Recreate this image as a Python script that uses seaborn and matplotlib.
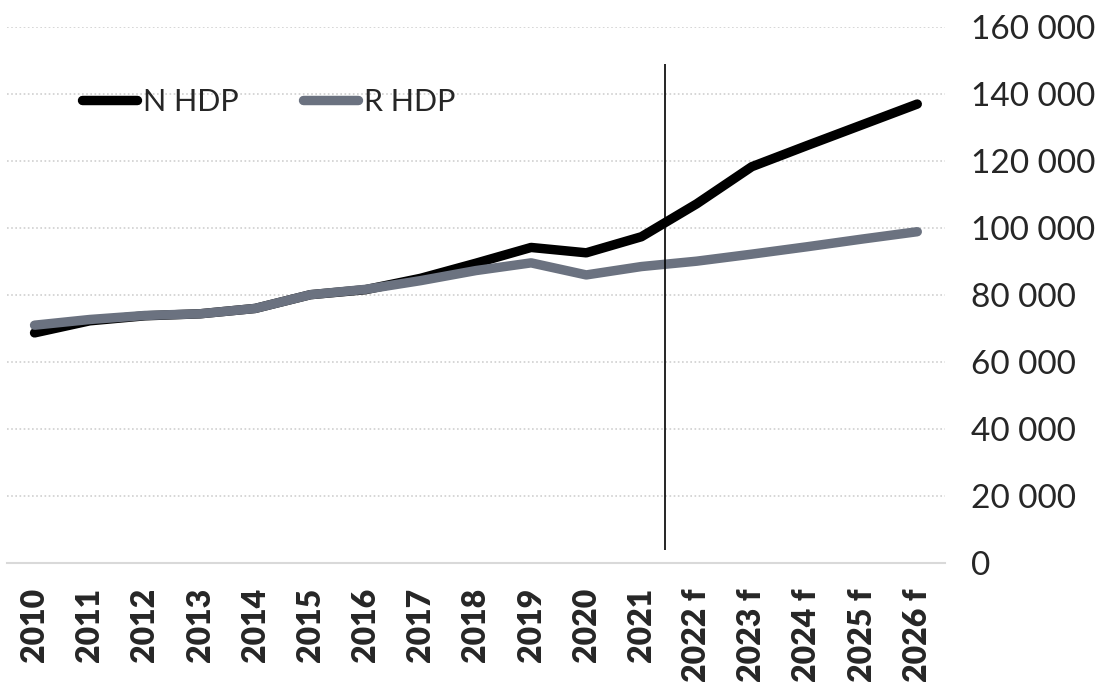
import matplotlib
matplotlib.use("Agg")
import matplotlib.pyplot as plt
import seaborn as sns
import pandas as pd

# data
roky = ["2010", "2011", "2012", "2013", "2014", "2015", "2016", "2017", "2018",
        "2019", "2020", "2021", "2022 f", "2023 f", "2024 f", "2025 f", "2026 f"]
n_hdp = [68700, 72300, 73800, 74400, 76000, 80100, 81600, 85000, 89500,
         94200, 92600, 97400, 107200, 118300, 124600, 130800, 137000]
r_hdp = [71000, 72700, 73900, 74400, 76000, 80100, 81700, 84300, 87300,
         89600, 86000, 88500, 90100, 92200, 94400, 96700, 98900]
y_ticks = [0, 20000, 40000, 60000, 80000, 100000, 120000, 140000, 160000]

df = pd.DataFrame({"Rok": roky * 2,
                   "Hodnota": n_hdp + r_hdp,
                   "Serie": ["N HDP"] * len(roky) + ["R HDP"] * len(roky)})

sns.set_theme(style="white")
plt.rcParams["font.family"] = ["Lato", "DejaVu Sans"]

fig = plt.figure(figsize=(11.06, 6.85), dpi=100)
ax = fig.add_axes([0.0063, 0.178, 0.848, 0.7826])

sns.lineplot(data=df, x="Rok", y="Hodnota", hue="Serie",
             palette={"N HDP": "#000000", "R HDP": "#6b7280"},
             linewidth=6.8, ax=ax, sort=False)
for ln in ax.lines:
    ln.set_solid_capstyle("round")

# forecast split line
ax.vlines(11.42, 3900, 149000, color="black", linewidth=1.2)

ax.set_xlim(-0.5, 16.5)
ax.set_ylim(0, 160000)
ax.set_yticks(y_ticks)
ax.set_yticklabels([f"{v:,}".replace(",", " ") for v in y_ticks])
ax.yaxis.tick_right()
ax.tick_params(axis="y", length=0, pad=19, labelsize=24)
ax.tick_params(axis="x", length=0, pad=18, labelsize=23, rotation=90)
for t in ax.get_xticklabels():
    t.set_fontweight("heavy")

ax.grid(axis="y", color="#d0d0d0", linestyle=(0, (1, 1.5)), linewidth=1.2)
ax.grid(axis="x", visible=False)
for s in ["top", "left", "right"]:
    ax.spines[s].set_visible(False)
ax.spines["bottom"].set_color("#d9d9d9")
ax.spines["bottom"].set_linewidth(1.5)
ax.set_xlabel("")
ax.set_ylabel("")

leg = ax.legend(loc="center left", bbox_to_anchor=(0.08, 0.86), ncol=2,
                frameon=False, fontsize=22, handlelength=1.8,
                handletextpad=0.2, columnspacing=2.1, borderpad=0,
                borderaxespad=0)
for h in leg.get_lines():
    h.set_linewidth(6.8)
    h.set_solid_capstyle("round")

fig.savefig("out.png", dpi=100)
